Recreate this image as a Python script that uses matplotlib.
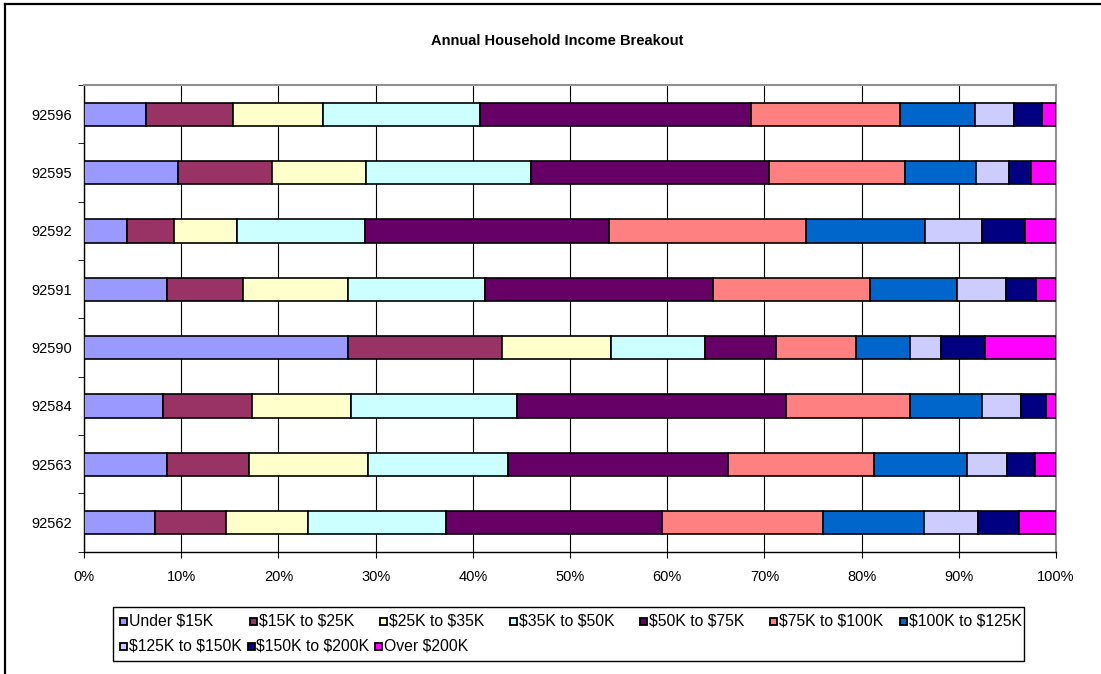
import matplotlib
matplotlib.use("Agg")
import matplotlib.pyplot as plt
from matplotlib.patches import Rectangle
from matplotlib.lines import Line2D
import numpy as np

plt.rcParams['font.family'] = ['Liberation Sans', 'DejaVu Sans']
plt.rcParams['text.parse_math'] = False

zips = ["92596", "92595", "92592", "92591", "92590", "92584", "92563", "92562"]
series = ["Under $15K", "$15K to $25K", "$25K to $35K", "$35K to $50K", "$50K to $75K",
          "$75K to $100K", "$100K to $125K", "$125K to $150K", "$150K to $200K", "Over $200K"]
colors = ["#9999FF", "#993366", "#FFFFCC", "#CCFFFF", "#660066",
          "#FF8080", "#0066CC", "#CCCCFF", "#000080", "#FF00FF"]

# percentages per zip (rows) for each income band (columns)
v_92596 = [6.4, 8.9, 9.3, 16.2, 27.9, 15.3, 7.8, 4.0, 2.9, 1.4]
v_92595 = [9.7, 9.7, 9.6, 17.0, 24.5, 14.0, 7.4, 3.4, 2.2, 2.6]
v_92592 = [4.4, 4.9, 6.4, 13.2, 25.1, 20.3, 12.2, 5.9, 4.4, 3.2]
v_92591 = [8.5, 7.9, 10.8, 14.1, 23.5, 16.1, 9.0, 5.0, 3.1, 2.1]
v_92590 = [27.2, 15.8, 11.2, 9.7, 7.3, 8.2, 5.6, 3.2, 4.5, 7.3]
v_92584 = [8.1, 9.2, 10.2, 17.0, 27.7, 12.8, 7.4, 4.0, 2.6, 1.0]
v_92563 = [8.5, 8.5, 12.2, 14.4, 22.6, 15.0, 9.6, 4.1, 2.8, 2.2]
v_92562 = [7.3, 7.3, 8.5, 14.2, 22.2, 16.6, 10.4, 5.6, 4.2, 3.8]

data = np.array([v_92596, v_92595, v_92592, v_92591, v_92590, v_92584, v_92563, v_92562], dtype=float)
data = data / data.sum(axis=1, keepdims=True)

W, H = 1101, 674
fig = plt.figure(figsize=(W/100, H/100), dpi=100)
ax = fig.add_axes([84/W, 1 - 551.7/H, (1056-84)/W, (551.7-85)/H])

n = len(zips)
ypos = np.arange(n)[::-1]  # first zip at top
left = np.zeros(n)
for j, (name, c) in enumerate(zip(series, colors)):
    ax.barh(ypos, data[:, j], left=left, height=0.4, color=c, edgecolor='black',
            linewidth=1.2, label=name, zorder=3)
    left += data[:, j]

ax.set_xlim(0, 1)
ax.set_ylim(-0.5, n - 0.5)
ax.set_xticks(np.arange(0, 1.01, 0.1))
ax.set_xticklabels([f"{int(round(t*100))}%" for t in np.arange(0, 1.01, 0.1)], fontsize=10.5)
ax.set_yticks(ypos)
ax.set_yticklabels(zips, fontsize=10.5)
ax.tick_params(axis='y', which='major', length=0, pad=8.6)
ax.set_yticks(np.arange(-0.5, n, 1.0), minor=True)
ax.tick_params(axis='y', which='minor', length=4, direction='out', color='black')
ax.tick_params(axis='x', length=4, direction='out', pad=9, color='black')
ax.grid(axis='x', color='black', linewidth=0.8, zorder=0)
ax.set_axisbelow(True)
for s in ['top', 'right']:
    ax.spines[s].set_color('#909090')
    ax.spines[s].set_linewidth(1.5)
for s in ['left', 'bottom']:
    ax.spines[s].set_color('black')
    ax.spines[s].set_linewidth(1.0)

fig.text(557/W, 1 - 41/H, "Annual Household Income Breakout", ha='center', va='center',
         fontsize=10.5, fontweight='bold')

# legend drawn as a uniform grid (Excel style): 7 entries on the first row, 3 on the second
fig.add_artist(Rectangle((113/W, 1 - 661/H), (1024-113)/W, (661-607)/H,
                         transform=fig.transFigure, facecolor='white', edgecolor='black',
                         linewidth=1.0, zorder=5))
row_y = [621, 646]
row_pitch = [130, 127.5]
msize = 7
for i, (name, c) in enumerate(zip(series, colors)):
    r, col = divmod(i, 7)
    x0 = 120 + col * row_pitch[r]
    yc = row_y[r]
    fig.add_artist(Rectangle((x0/W, 1 - (yc + msize/2)/H), msize/W, msize/H,
                             transform=fig.transFigure, facecolor=c, edgecolor='black',
                             linewidth=1.3, zorder=6))
    fig.text((x0 + msize + 2)/W, 1 - yc/H, name, ha='left', va='center',
             fontsize=11.3, zorder=6)

# outer chart frame (left and top edges visible)
fig.add_artist(Line2D([5/W, 5/W], [0, 1 - 4/H], color='black', linewidth=1.6,
                      transform=fig.transFigure))
fig.add_artist(Line2D([5/W, 1], [1 - 4/H, 1 - 4/H], color='black', linewidth=1.6,
                      transform=fig.transFigure))

fig.savefig("out.png", dpi=100)
